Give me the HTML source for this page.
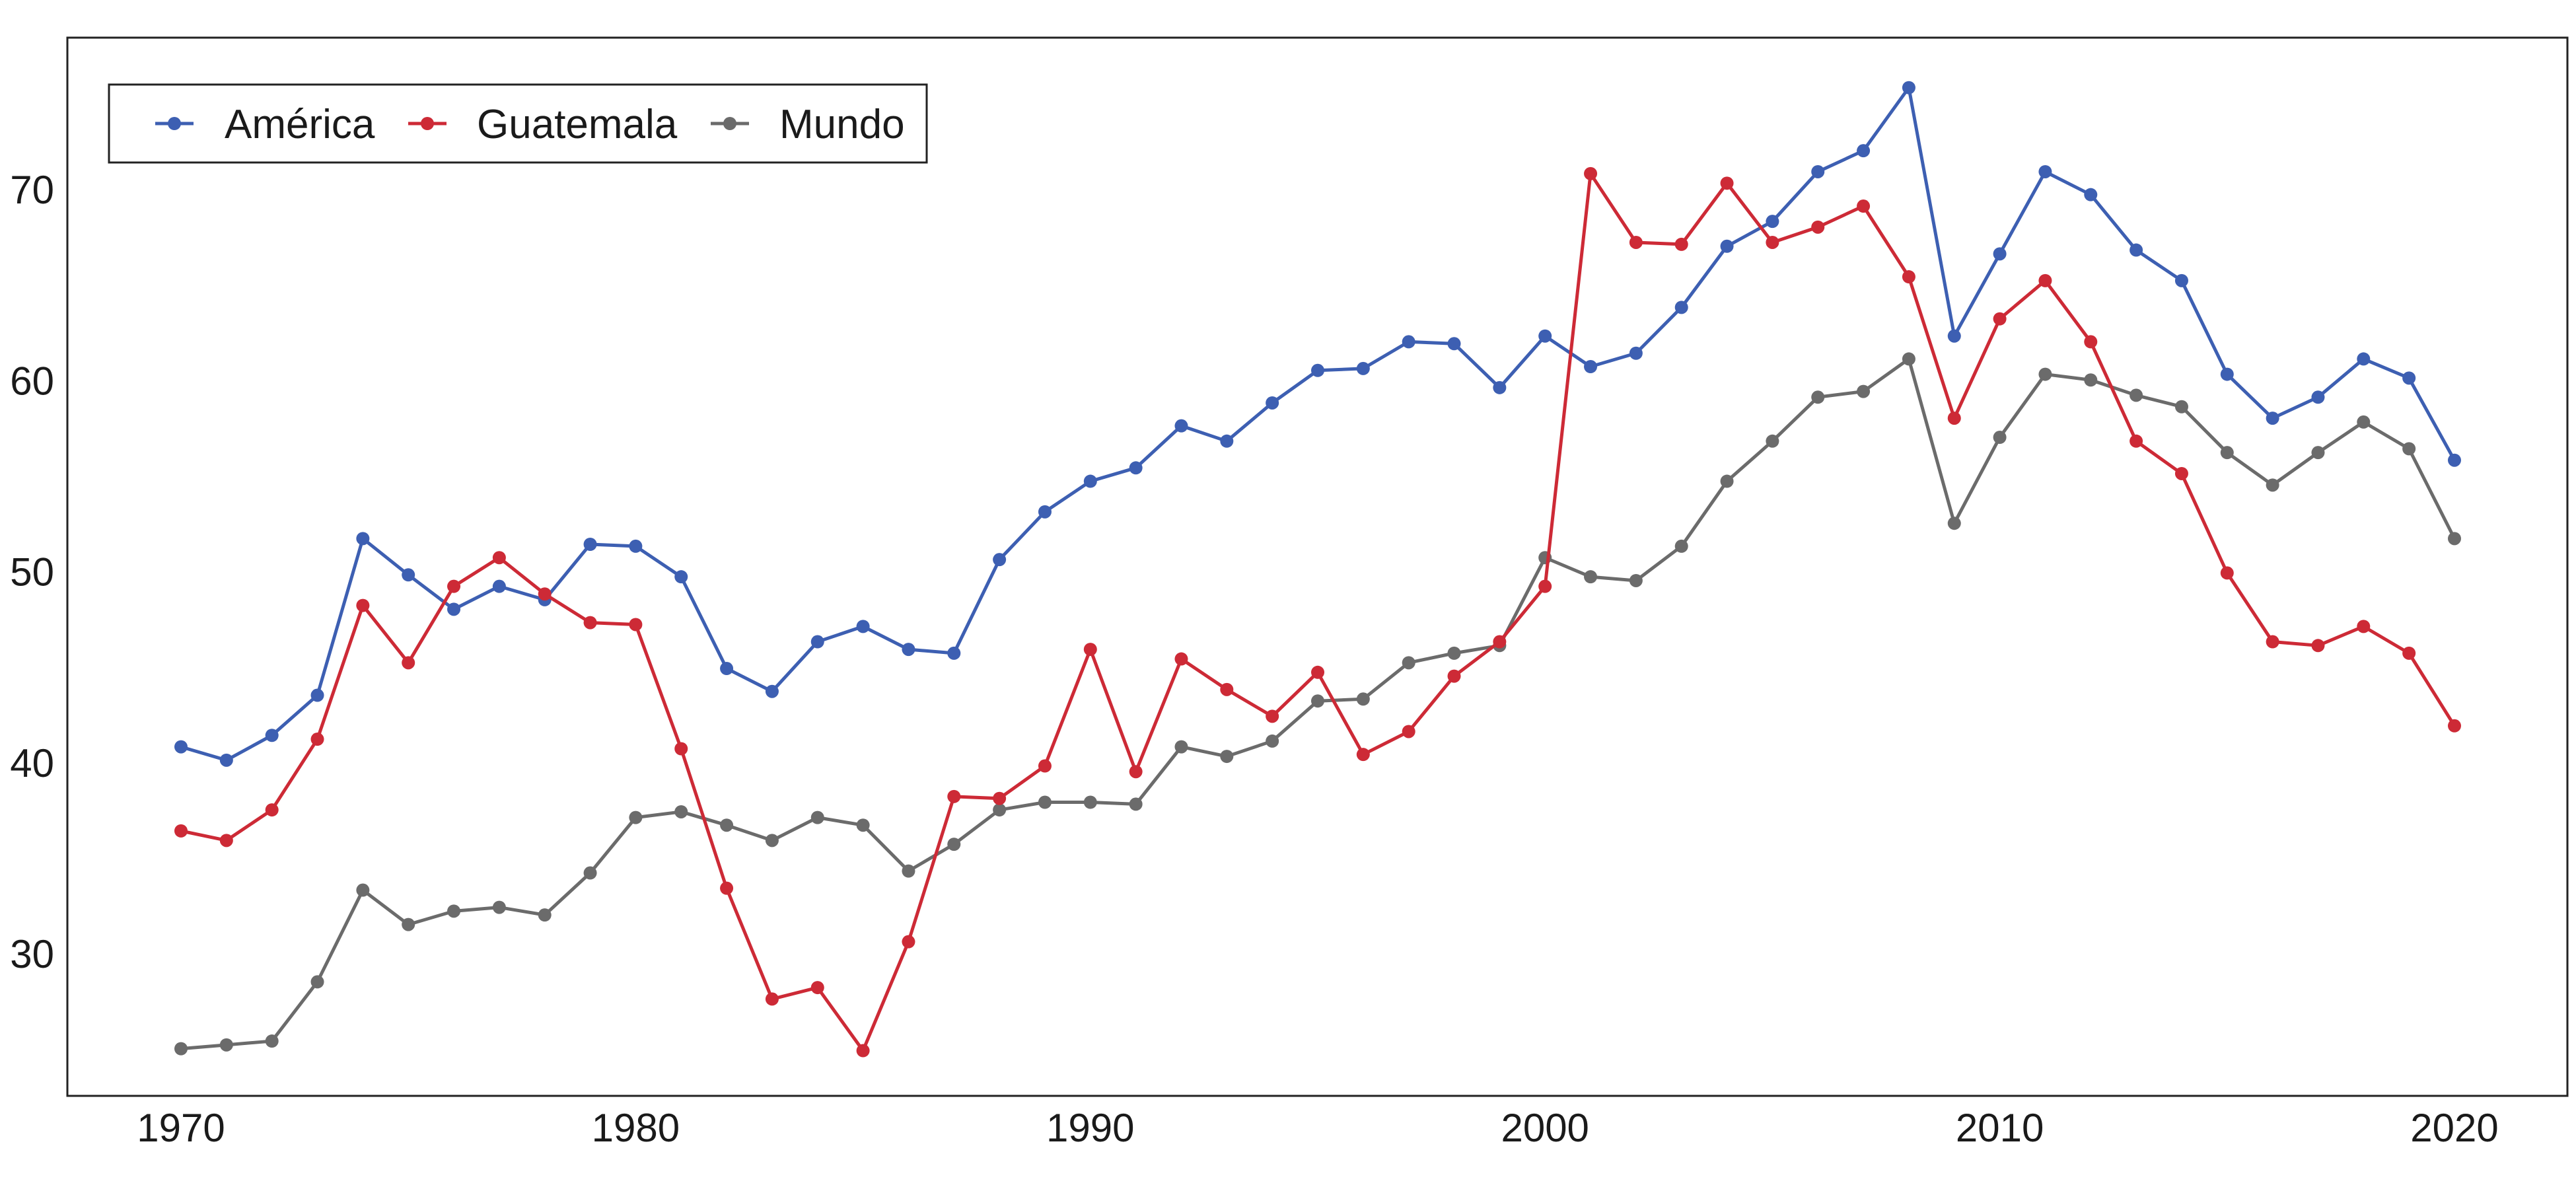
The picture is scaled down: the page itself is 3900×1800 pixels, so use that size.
<!DOCTYPE html>
<html><head><meta charset="utf-8"><style>
html,body{margin:0;padding:0;background:#fff;}
svg{display:block;font-family:"Liberation Sans",Arial,sans-serif;}
</style></head><body>
<svg id="chart" width="3900" height="1800" viewBox="0 0 3900 1800">
<rect x="0" y="0" width="3900" height="1800" fill="#fff"/>
<g id="marks"></g>
<rect x="102" y="57" width="3785" height="1602" fill="none" stroke="#222" stroke-width="3"/>
<g id="axes"></g>
<g>
<rect x="165" y="128" width="1238" height="118" fill="#fff" stroke="#222" stroke-width="3"/>
<g>
<line x1="235" y1="187" x2="293" y2="187" stroke="#3d5fb2" stroke-width="5"/><circle cx="264" cy="187" r="10" fill="#3d5fb2"/>
<text x="340" y="209" font-size="62" fill="#1a1a1a">América</text></g>
<g>
<line x1="618" y1="187" x2="676" y2="187" stroke="#cd2a36" stroke-width="5"/><circle cx="647" cy="187" r="10" fill="#cd2a36"/>
<text x="722" y="209" font-size="62" fill="#1a1a1a">Guatemala</text></g>
<g>
<line x1="1076" y1="187" x2="1134" y2="187" stroke="#6b6b6b" stroke-width="5"/><circle cx="1105" cy="187" r="10" fill="#6b6b6b"/>
<text x="1180" y="209" font-size="62" fill="#1a1a1a">Mundo</text></g>
</g>
</svg>
<script>
const years = Array.from({length:51},(_,i)=>1970+i);
const america = [40.8,40.1,41.4,43.5,51.7,49.8,48.0,49.2,48.5,51.4,51.3,49.7,44.9,43.7,46.3,47.1,45.9,45.7,50.6,53.1,54.7,55.4,57.6,56.8,58.8,60.5,60.6,62.0,61.9,59.6,62.3,60.7,61.4,63.8,67.0,68.3,70.9,72.0,75.3,62.3,66.6,70.9,69.7,66.8,65.2,60.3,58.0,59.1,61.1,60.1,55.8];
const guatemala = [36.4,35.9,37.5,41.2,48.2,45.2,49.2,50.7,48.8,47.3,47.2,40.7,33.4,27.6,28.2,24.9,30.6,38.2,38.1,39.8,45.9,39.5,45.4,43.8,42.4,44.7,40.4,41.6,44.5,46.3,49.2,70.8,67.2,67.1,70.3,67.2,68.0,69.1,65.4,58.0,63.2,65.2,62.0,56.8,55.1,49.9,46.3,46.1,47.1,45.7,41.9];
const mundo = [25.0,25.2,25.4,28.5,33.3,31.5,32.2,32.4,32.0,34.2,37.1,37.4,36.7,35.9,37.1,36.7,34.3,35.7,37.5,37.9,37.9,37.8,40.8,40.3,41.1,43.2,43.3,45.2,45.7,46.1,50.7,49.7,49.5,51.3,54.7,56.8,59.1,59.4,61.1,52.5,57.0,60.3,60.0,59.2,58.6,56.2,54.5,56.2,57.8,56.4,51.7];
const xTicks = [1970,1980,1990,2000,2010,2020];
const yTicks = [30,40,50,60,70];

const NS="http://www.w3.org/2000/svg";
function xs(v){return 274+(v-1970)*(3716-274)/50;}
function ys(v){return 1443-(v-30)*(1443-286)/40;}
const marks=document.getElementById('marks');
const axes=document.getElementById('axes');
function series(vals,color,name){
  const g=document.createElementNS(NS,'g');
  
  
  const p=document.createElementNS(NS,'polyline');
  p.setAttribute('points',vals.map((v,i)=>xs(years[i])+','+ys(v)).join(' '));
  p.setAttribute('fill','none');p.setAttribute('stroke',color);p.setAttribute('stroke-width','5');p.setAttribute('stroke-linejoin','round');
  
  
  g.appendChild(p);
  vals.forEach((v,i)=>{
    const c=document.createElementNS(NS,'circle');
    c.setAttribute('cx',xs(years[i]));c.setAttribute('cy',ys(v));c.setAttribute('r','10');c.setAttribute('fill',color);
    
    
    g.appendChild(c);
  });
  marks.appendChild(g);
}
series(mundo,'#6b6b6b','mundo');
series(america,'#3d5fb2','america');
series(guatemala,'#cd2a36','guatemala');
xTicks.forEach(t=>{
  const tx=document.createElementNS(NS,'text');
  tx.setAttribute('x',xs(t));tx.setAttribute('y',1728);tx.setAttribute('text-anchor','middle');tx.setAttribute('font-size','60');tx.setAttribute('fill','#1a1a1a');
  tx.textContent=t;
  
  
  axes.appendChild(tx);
});
yTicks.forEach(t=>{
  const tx=document.createElementNS(NS,'text');
  tx.setAttribute('x',82);tx.setAttribute('y',ys(t)+22);tx.setAttribute('text-anchor','end');tx.setAttribute('font-size','60');tx.setAttribute('fill','#1a1a1a');
  tx.textContent=t;
  
  
  axes.appendChild(tx);
});
</script>
</body></html>
